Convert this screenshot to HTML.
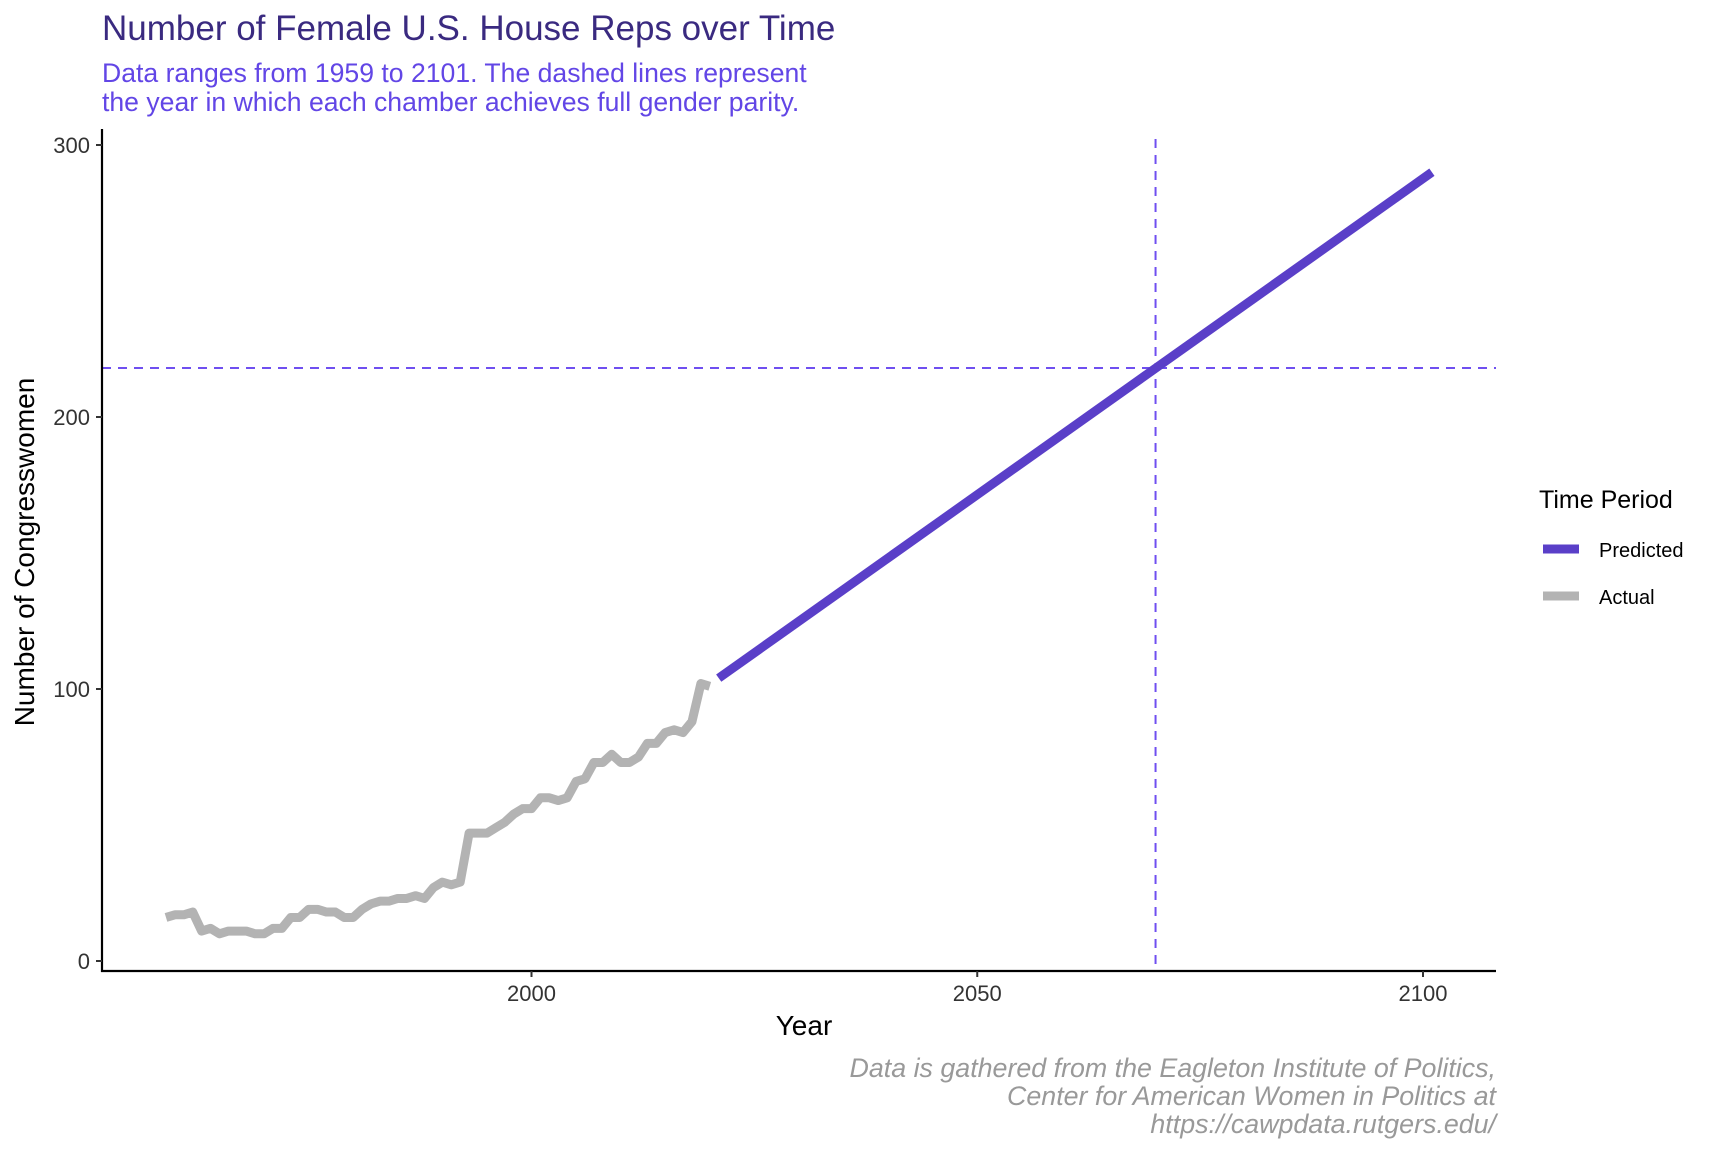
<!DOCTYPE html>
<html><head><meta charset="utf-8"><style>
html,body{margin:0;padding:0;background:#fff}
svg{display:block;font-family:"Liberation Sans",Arial,sans-serif}
</style></head><body>
<svg id="chart" width="1728" height="1152" viewBox="0 0 1728 1152">
<text x="102" y="40" font-size="35" fill="#3a2a80">Number of Female U.S. House Reps over Time</text>
<text x="102" y="82" font-size="26.6" fill="#6246e6">Data ranges from 1959 to 2101. The dashed lines represent</text>
<text x="102" y="111" font-size="26.6" fill="#6246e6">the year in which each chamber achieves full gender parity.</text>
<g id="plot"></g>
<text x="804" y="1035" font-size="28" text-anchor="middle" fill="#000">Year</text>
<text transform="translate(34,552) rotate(-90)" font-size="28" text-anchor="middle" fill="#000">Number of Congresswomen</text>
<g font-size="26.8" font-style="italic" fill="#999" text-anchor="end">
<text x="1496" y="1077">Data is gathered from the Eagleton Institute of Politics,</text>
<text x="1496" y="1105">Center for American Women in Politics at</text>
<text x="1496" y="1133">https://cawpdata.rutgers.edu/</text>
</g>
<g>
<text x="1539" y="508" font-size="25" fill="#000">Time Period</text>
<line x1="1543" y1="549" x2="1579" y2="549" stroke="#5a3fc8" stroke-width="9"/>
<text x="1599" y="557" font-size="20" fill="#000">Predicted</text>
<line x1="1543" y1="596" x2="1579" y2="596" stroke="#b3b3b3" stroke-width="9"/>
<text x="1599" y="604" font-size="20" fill="#000">Actual</text>
</g>
</svg>
<script>
const actualYears = [1959,1960,1961,1962,1963,1964,1965,1966,1967,1968,1969,1970,1971,1972,1973,1974,1975,1976,1977,1978,1979,1980,1981,1982,1983,1984,1985,1986,1987,1988,1989,1990,1991,1992,1993,1994,1995,1996,1997,1998,1999,2000,2001,2002,2003,2004,2005,2006,2007,2008,2009,2010,2011,2012,2013,2014,2015,2016,2017,2018,2019,2020];
const actualValues = [16,17,17,18,11,12,10,11,11,11,10,10,12,12,16,16,19,19,18,18,16,16,19,21,22,22,23,23,24,23,27,29,28,29,47,47,47,49,51,54,56,56,60,60,59,60,66,67,73,73,76,73,73,75,80,80,84,85,84,88,102,101];
const predictedYears = [2021,2101];
const predictedValues = [104,290];
const parityYear = [2070];
const parityValue = [218];
const xTicks = [2000,2050,2100];
const yTicks = [0,100,200,300];

const X0=102, X1=1496, Y0=129, Y1=971;
function xs(v){return 531.5+(v-2000)*(1423-531.5)/100;}
function ys(v){return 961-v*(961-145)/300;}
const NS='http://www.w3.org/2000/svg';
const plot=document.getElementById('plot');
function mk(tag,attrs,parent){const e=document.createElementNS(NS,tag);for(const k in attrs)e.setAttribute(k,attrs[k]);(parent||plot).appendChild(e);return e;}

const hl=mk('line',{x1:X0,x2:X1,y1:ys(parityValue[0]),y2:ys(parityValue[0]),stroke:'#6f4ff0','stroke-width':2,'stroke-dasharray':'9,7'});


const vl=mk('line',{x1:xs(parityYear[0]),x2:xs(parityYear[0]),y1:Y0+10,y2:Y1,stroke:'#6f4ff0','stroke-width':2,'stroke-dasharray':'9,7'});



const a=mk('polyline',{points:actualYears.map((y,i)=>xs(y)+','+ys(actualValues[i])).join(' '),fill:'none',stroke:'#b3b3b3','stroke-width':9,'stroke-linejoin':'round'});


const p=mk('polyline',{points:predictedYears.map((y,i)=>xs(y)+','+ys(predictedValues[i])).join(' '),fill:'none',stroke:'#5a3fc8','stroke-width':9});



const ya=mk('line',{x1:X0,x2:X0,y1:Y0,y2:Y1+1,stroke:'#000','stroke-width':2.2});


const xa=mk('line',{x1:X0-1,x2:X1,y1:Y1,y2:Y1,stroke:'#000','stroke-width':2.2});



yTicks.forEach(t=>{
  const tk=mk('line',{x1:X0-6,x2:X0,y1:ys(t),y2:ys(t),stroke:'#333','stroke-width':2});
  
  
  const tx=mk('text',{x:X0-12,y:ys(t)+8,'font-size':22,'text-anchor':'end',fill:'#333'});
  tx.textContent=t;
  
  
});
xTicks.forEach(t=>{
  const tk=mk('line',{x1:xs(t),x2:xs(t),y1:Y1,y2:Y1+6,stroke:'#333','stroke-width':2});
  
  
  const tx=mk('text',{x:xs(t),y:Y1+30,'font-size':22,'text-anchor':'middle',fill:'#333'});
  tx.textContent=t;
  
  
});
</script>
</body></html>
